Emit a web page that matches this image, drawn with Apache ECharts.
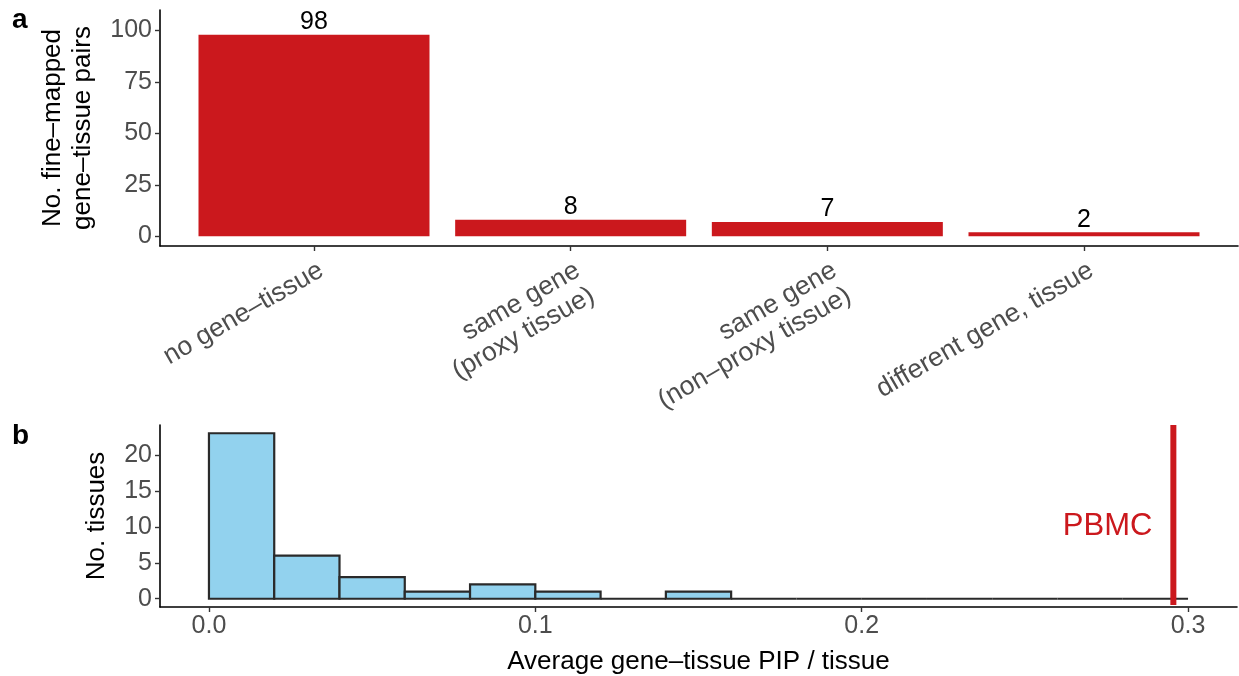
<!DOCTYPE html>
<html>
<head>
<meta charset="utf-8">
<script src="https://cdn.jsdelivr.net/npm/echarts@6/dist/echarts.min.js"></script>
<style>html,body{margin:0;padding:0;background:#fff}#c{width:1239px;height:676px}</style>
</head>
<body>
<div id="c"></div>
<script>
// ---- Panel a data ----
const categories = ['no gene\u2013tissue', 'same gene\n(proxy tissue)', 'same gene\n(non\u2013proxy tissue)', 'different gene, tissue'];
const categoryPos = [1, 2, 3, 4];
const pairCounts = [98, 8, 7, 2];
const aTicks = [0, 25, 50, 75, 100];

// ---- Panel b data ----
const binStarts = [0.00, 0.02, 0.04, 0.06, 0.08, 0.10, 0.12, 0.14, 0.16, 0.18, 0.20, 0.22, 0.24, 0.26, 0.28];
const binEnds   = [0.02, 0.04, 0.06, 0.08, 0.10, 0.12, 0.14, 0.16, 0.18, 0.20, 0.22, 0.24, 0.26, 0.28, 0.30];
const tissueCounts = [23, 6, 3, 1, 2, 1, 0, 1, 0, 0, 0, 0, 0, 0, 0];
const bYTicks = [0, 5, 10, 15, 20];
const bXTicks = [0, 0.1, 0.2, 0.3];
const pbmcPIP = 0.2955;
const pbmcLabelY = 10;
const pbmcLabel = 'PBMC';

const FONT = 'Liberation Sans, Arial, Helvetica, sans-serif';
const RED = '#CB181D';
const TICKCOL = '#4D4D4D';

const chart = echarts.init(document.getElementById('c'), null, {renderer: 'canvas'});

const axisLineStyle = {show: true, onZero: false, lineStyle: {color: '#000', width: 1.6}};
const tickStyle = {show: true, length: 5, lineStyle: {color: '#333', width: 1.4}};

const option = {
  animation: false,
  backgroundColor: '#fff',
  graphic: [
    {type: 'text', left: 12, top: 6, style: {text: 'a', font: 'bold 28px ' + FONT, fill: '#000'}},
    {type: 'text', left: 12, top: 422, style: {text: 'b', font: 'bold 28px ' + FONT, fill: '#000'}}
  ],
  grid: [
    {left: 160, right: 1, top: 10, height: 236},
    {left: 160, right: 2, top: 425, height: 183}
  ],
  xAxis: [
    {
      gridIndex: 0, type: 'value', min: 0.4, max: 4.6,
      splitLine: {show: false},
      axisLine: axisLineStyle,
      axisTick: Object.assign({customValues: categoryPos}, tickStyle),
      axisLabel: {
        customValues: categoryPos,
        formatter: v => categories[Math.round(v) - 1] || '',
        rotate: 30, margin: 10, color: TICKCOL, fontSize: 26.5, fontFamily: FONT,
        lineHeight: 29, align: 'right', verticalAlign: 'top'
      }
    },
    {
      gridIndex: 1, type: 'value', min: -0.015, max: 0.315,
      splitLine: {show: false},
      axisLine: axisLineStyle,
      axisTick: Object.assign({customValues: bXTicks}, tickStyle),
      axisLabel: {
        customValues: bXTicks,
        formatter: v => v.toFixed(1),
        margin: 7, color: TICKCOL, fontSize: 25, fontFamily: FONT
      },
      name: 'Average gene\u2013tissue PIP / tissue', nameLocation: 'middle', nameGap: 42,
      nameTextStyle: {color: '#000', fontSize: 26, fontFamily: FONT}
    }
  ],
  yAxis: [
    {
      gridIndex: 0, type: 'value', min: -4.7, max: 110,
      splitLine: {show: false},
      axisLine: axisLineStyle,
      axisTick: Object.assign({customValues: aTicks}, tickStyle),
      axisLabel: {customValues: aTicks, margin: 8, color: TICKCOL, fontSize: 25, fontFamily: FONT},
      name: 'No. fine\u2013mapped\ngene\u2013tissue pairs', nameLocation: 'middle', nameGap: 62,
      nameTextStyle: {color: '#000', fontSize: 26, fontFamily: FONT, lineHeight: 30}
    },
    {
      gridIndex: 1, type: 'value', min: -1.15, max: 24.15,
      splitLine: {show: false},
      axisLine: axisLineStyle,
      axisTick: Object.assign({customValues: bYTicks}, tickStyle),
      axisLabel: {customValues: bYTicks, margin: 8, color: TICKCOL, fontSize: 25, fontFamily: FONT},
      name: 'No. tissues', nameLocation: 'middle', nameGap: 50,
      nameTextStyle: {color: '#000', fontSize: 26, fontFamily: FONT}
    }
  ],
  series: [
    {
      type: 'custom', xAxisIndex: 0, yAxisIndex: 0,
      data: categoryPos.map((p, i) => [p, pairCounts[i]]),
      renderItem: function (params, api) {
        const x = api.value(0), y = api.value(1);
        const p0 = api.coord([x - 0.45, y]);
        const p1 = api.coord([x + 0.45, 0]);
        return {
          type: 'group',
          children: [
            {type: 'rect', shape: {x: p0[0], y: p0[1], width: p1[0] - p0[0], height: p1[1] - p0[1]}, style: {fill: RED}},
            {type: 'text', x: (p0[0] + p1[0]) / 2, y: p0[1],
             style: {text: String(y), font: '25px ' + FONT, fill: '#000', align: 'center', verticalAlign: 'bottom'}}
          ]
        };
      }
    },
    {
      type: 'custom', xAxisIndex: 1, yAxisIndex: 1,
      data: binStarts.map((s, i) => [s, binEnds[i], tissueCounts[i]]),
      renderItem: function (params, api) {
        const p0 = api.coord([api.value(0), api.value(2)]);
        const p1 = api.coord([api.value(1), 0]);
        return {
          type: 'rect',
          shape: {x: p0[0], y: p0[1], width: p1[0] - p0[0], height: p1[1] - p0[1]},
          style: {fill: '#92D2EE', stroke: '#2A2A2A', lineWidth: 2.2}
        };
      },
      z: 2
    },
    {
      type: 'custom', xAxisIndex: 1, yAxisIndex: 1,
      data: [[pbmcPIP, pbmcLabelY]],
      renderItem: function (params, api) {
        const cs = params.coordSys;
        const p = api.coord([api.value(0), api.value(1)]);
        return {
          type: 'group',
          children: [
            {type: 'line', shape: {x1: p[0], y1: cs.y, x2: p[0], y2: cs.y + cs.height - 2},
             style: {stroke: RED, lineWidth: 6}},
            {type: 'text', x: p[0] - 21, y: p[1],
             style: {text: pbmcLabel, font: '31px ' + FONT, fill: RED, align: 'right', verticalAlign: 'middle'}}
          ]
        };
      },
      z: 3
    }
  ]
};
chart.setOption(option);
</script>
</body>
</html>
